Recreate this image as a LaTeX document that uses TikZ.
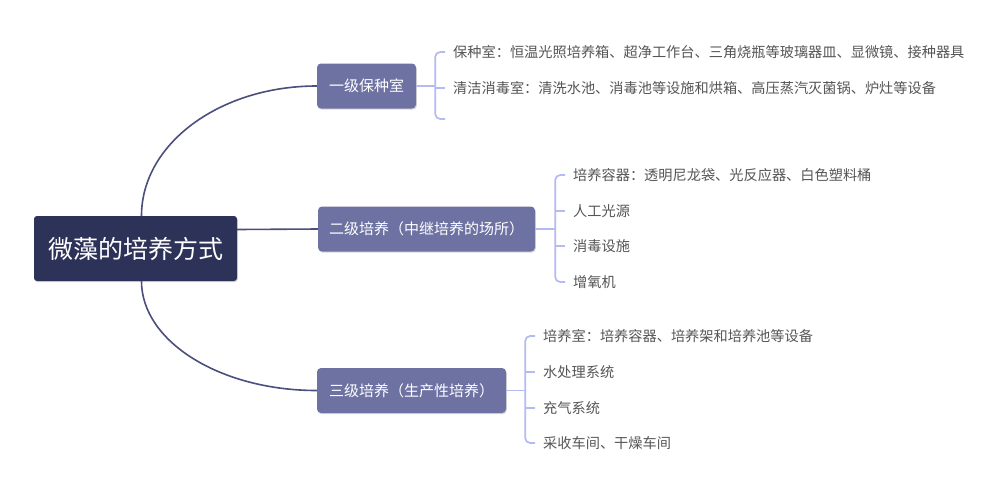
\documentclass[tikz,border=0pt]{standalone}
\usepackage{fontspec}
\setmainfont{Noto Sans CJK SC}
\usetikzlibrary{positioning, calc, shadows}
\definecolor{rootblue}{HTML}{2D3258}
\definecolor{branchblue}{HTML}{6D72A3}
\definecolor{linkblue}{HTML}{4B4F7B}
\definecolor{bracelilac}{HTML}{B4BAF2}
\definecolor{leafgray}{HTML}{555555}
\tikzset{
    root/.style={fill=rootblue, text=white, rounded corners=3pt, minimum width=203pt, minimum height=65pt, font=\fontsize{25}{29}\selectfont, drop shadow={shadow xshift=0.8pt, shadow yshift=-1.2pt, opacity=0.3}},
    branch/.style={fill=branchblue, text=white, rounded corners=4pt, minimum height=45pt, font=\fontsize{15}{18}\selectfont, drop shadow={shadow xshift=0.8pt, shadow yshift=-1.2pt, opacity=0.3}},
    leaf/.style={anchor=west, text=leafgray, inner xsep=8pt, inner ysep=2pt, font=\fontsize{14.2}{17}\selectfont},
    link/.style={draw=linkblue, line width=1.6pt},
    brace_line/.style={draw=bracelilac, line width=1.7pt, rounded corners=5pt}
}

\begin{document}
\begin{tikzpicture}[x=1pt, y=-1pt]
    \fill[white] (0,0) rectangle (1003,491);
    \useasboundingbox (0,0) rectangle (1003,491);

    % --- Root and branches ---
    \node (root) [root] at (135.5,248.5) {微藻的培养方式};
    \node (b1) [branch, minimum width=99pt] at (366.5,86) {一级保种室};
    \node (b2) [branch, minimum width=217pt] at (426.5,229) {二级培养（中继培养的场所）};
    \node (b3) [branch, minimum width=189pt] at (411.5,390.5) {三级培养（生产性培养）};

    % --- Root connectors ---
    \draw[link] ($(root.north)+(6,0)$) .. controls +(0,-72) and +(-97,0) .. (b1.west);
    \draw[link] ($(root.east)+(0,-19)$) -- (b2.west);
    \draw[link] ($(root.south)+(6,0)$) .. controls +(0,60) and +(-97,0) .. (b3.west);

    % --- Leaves of 一级保种室 ---
    \node (l11) [leaf] at (445,52) {保种室：恒温光照培养箱、超净工作台、三角烧瓶等玻璃器皿、显微镜、接种器具};
    \node (l12) [leaf] at (445,88) {清洁消毒室：清洗水池、消毒池等设施和烘箱、高压蒸汽灭菌锅、炉灶等设备};
    \coordinate (k1) at ($(b1.east)+(19,0)$);
    \coordinate (e1) at (445,119);
    \draw[brace_line] (b1.east) -- (k1);
    \draw[brace_line] (l11.west) -| (k1) |- (e1);
    \draw[brace_line] (k1 |- l12.west) -- (l12.west);

    % --- Leaves of 二级培养 ---
    \node (l21) [leaf] at (565,175) {培养容器：透明尼龙袋、光反应器、白色塑料桶};
    \node (l22) [leaf] at (565,211) {人工光源};
    \node (l23) [leaf] at (565,246) {消毒设施};
    \node (l24) [leaf] at (565,282) {增氧机};
    \coordinate (k2) at ($(b2.east)+(20,0)$);
    \draw[brace_line] (b2.east) -- (k2);
    \draw[brace_line] (l21.west) -| (k2) |- (l24.west);
    \draw[brace_line] (k2 |- l22.west) -- (l22.west);
    \draw[brace_line] (k2 |- l23.west) -- (l23.west);

    % --- Leaves of 三级培养 ---
    \node (l31) [leaf] at (535,336) {培养室：培养容器、培养架和培养池等设备};
    \node (l32) [leaf] at (535,372) {水处理系统};
    \node (l33) [leaf] at (535,408) {充气系统};
    \node (l34) [leaf] at (535,443) {采收车间、干燥车间};
    \coordinate (k3) at ($(b3.east)+(19,0)$);
    \draw[brace_line] (b3.east) -- (k3);
    \draw[brace_line] (l31.west) -| (k3) |- (l34.west);
    \draw[brace_line] (k3 |- l32.west) -- (l32.west);
    \draw[brace_line] (k3 |- l33.west) -- (l33.west);
\end{tikzpicture}
\end{document}
